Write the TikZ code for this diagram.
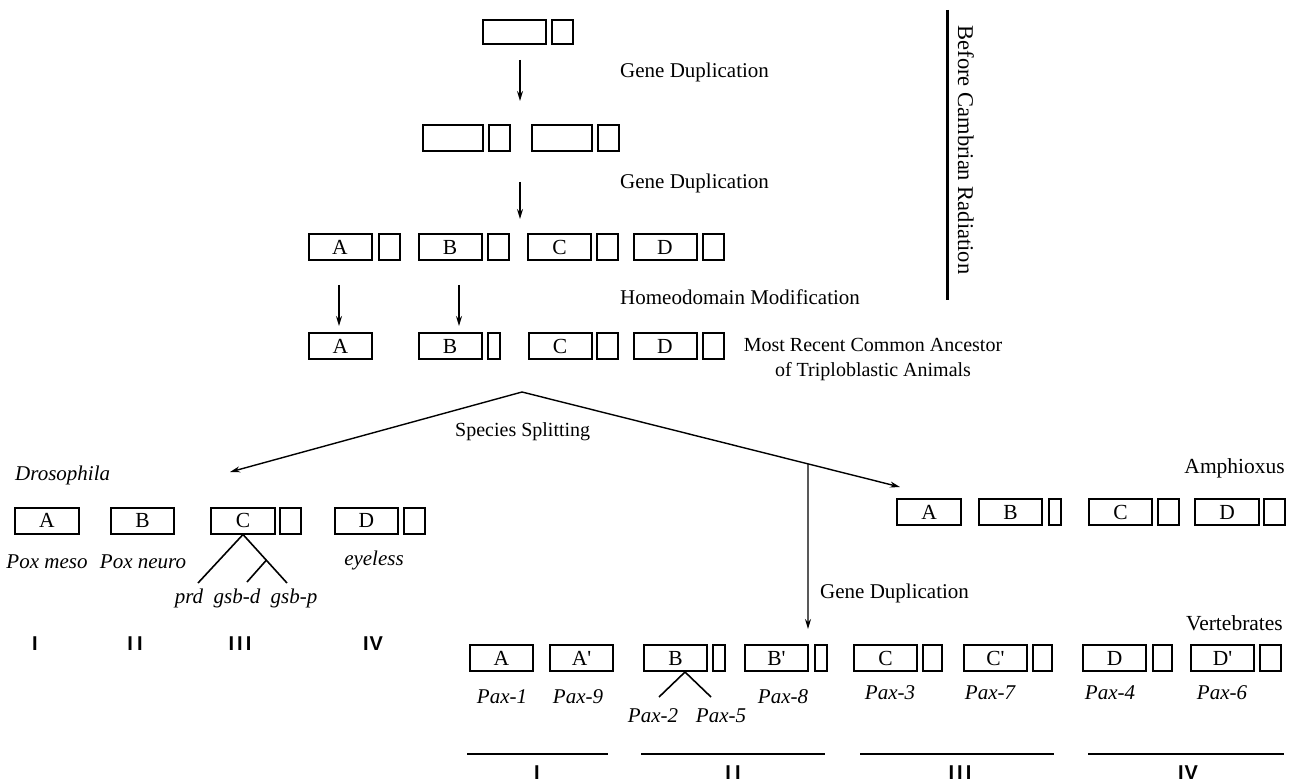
\documentclass[tikz,border=0pt]{standalone}
\usepackage{fontspec}
\setmainfont{Liberation Serif}
\setsansfont{Liberation Sans}
\usetikzlibrary{arrows.meta,calc}
\begin{document}
\begin{tikzpicture}[x=1pt,y=-1pt,
  gb/.style={draw, line width=2pt, minimum height=26pt, inner sep=0pt, font=\fontsize{21.5}{21.5}\selectfont},
  big/.style={gb, minimum width=63pt},
  sq/.style={gb, minimum width=21pt},
  nar/.style={gb, minimum width=12pt},
  arr/.style={line width=1.4pt, -{Stealth[length=10pt,width=6pt]}},
  lbl/.style={font=\fontsize{21}{26}\selectfont, inner sep=0pt},
  ital/.style={font=\fontsize{21}{24}\selectfont\itshape, inner sep=0pt},
  rom/.style={font=\fontsize{20}{20}\selectfont\sffamily\bfseries, inner sep=0pt, anchor=base},
  tree/.style={line width=1.6pt},
  grp/.style={line width=2.2pt}]
\useasboundingbox (0,0) rectangle (1289,783);

% Row 1
\node[big, minimum height=24pt] (r1a) at (514,32.5) {};
\node[sq, minimum height=24pt] (r1b) at (562.5,32.5) {};
% Row 2
\node[big, minimum width=60pt] (r2a) at (453,138.5) {};
\node[sq] (r2b) at (499,138.5) {};
\node[big, minimum width=60pt] (r2c) at (562,138.5) {};
\node[sq] (r2d) at (608.5,138.5) {};
% Row 3
\node[big] (r3A) at (340,247.5) {A};
\node[sq] (r3As) at (389,247.5) {};
\node[big] (r3B) at (450,247.5) {B};
\node[sq] (r3Bs) at (498.5,247.5) {};
\node[big] (r3C) at (559.5,247.5) {C};
\node[sq] (r3Cs) at (607.5,247.5) {};
\node[big] (r3D) at (665,247.5) {D};
\node[sq] (r3Ds) at (713,247.5) {};
% Row 4
\node[big] (r4A) at (340.5,346) {A};
\node[big] (r4B) at (450,346) {B};
\node[nar] (r4Bs) at (494,346) {};
\node[big] (r4C) at (560,346) {C};
\node[sq] (r4Cs) at (607.5,346) {};
\node[big] (r4D) at (665,346) {D};
\node[sq] (r4Ds) at (713,346) {};

% arrows in upper part
\coordinate (a1s) at (520,60);  \coordinate (a1e) at (520,101);
\coordinate (a2s) at (520,182); \coordinate (a2e) at (520,219);
\coordinate (a3s) at (339,285); \coordinate (a3e) at (339,326);
\coordinate (a4s) at (459,285); \coordinate (a4e) at (459,326);
\draw[arr] (a1s) -- (a1e);
\draw[arr] (a2s) -- (a2e);
\draw[arr] (a3s) -- (a3e);
\draw[arr] (a4s) -- (a4e);

\node[lbl, anchor=west] (gd1) at (620,72) {Gene Duplication};
\node[lbl, anchor=west] (gd2) at (620,183) {Gene Duplication};
\node[lbl, anchor=west] (hm) at (620,297) {Homeodomain Modification};
\node[lbl, align=center, font=\fontsize{20}{25}\selectfont] (mrca) at (873,359.5) {Most Recent Common Ancestor\\of Triploblastic Animals};

% Before Cambrian Radiation
\coordinate (bar1) at (947,10); \coordinate (bar2) at (947,300);
\draw[line width=3pt] (bar1) -- (bar2);
\node[lbl, rotate=-90, font=\fontsize{22.5}{25}\selectfont] (bcr) at (966,150) {Before Cambrian Radiation};

% Species splitting
\coordinate (apex) at (522,392);
\coordinate (drotip) at (230,472);
\coordinate (amphtip) at (900,487);
\coordinate (vsplit) at ($(apex)!0.7566!(amphtip)$);
\coordinate (vtip) at (808,629);
\draw[arr] (apex) -- (drotip);
\draw[arr] (apex) -- (amphtip);
\draw[arr] (vsplit) -- (vtip);
\node[lbl, anchor=west, font=\fontsize{20}{24}\selectfont] (ss) at (455,432) {Species Splitting};

% Drosophila
\node[ital, anchor=west] (dros) at (15,475) {Drosophila};
\node[big, minimum width=64pt] (dA) at (47,520.5) {A};
\node[big] (dB) at (142.5,520.5) {B};
\node[big, minimum width=64pt] (dC) at (243,520.5) {C};
\node[sq] (dCs) at (290.5,520.5) {};
\node[big] (dD) at (366.5,520.5) {D};
\node[sq] (dDs) at (414.5,520.5) {};
\node[ital] (pm) at (47,562) {Pox meso};
\node[ital] (pn) at (143,562) {Pox neuro};
\node[ital] (ey) at (374,560) {eyeless};
\coordinate (prdE) at (198,583);
\coordinate (gspE) at (287,583);
\coordinate (gsdE) at (247,582);
\coordinate (inner) at ($(dC.south)!0.53!(gspE)$);
\draw[tree] (prdE) -- (dC.south) -- (gspE);
\draw[tree] (inner) -- (gsdE);
\node[ital] (prd) at (189,598) {prd};
\node[ital] (gsd) at (237,598) {gsb-d};
\node[ital] (gsp) at (294,598) {gsb-p};
\node[rom] (dI) at (35,650) {I};
\node[rom] (dII) at (135,650) {I\kern4pt I};
\node[rom] (dIII) at (240,650) {I\kern3pt I\kern3pt I};
\node[rom] (dIV) at (373,650) {I\kern1pt V};

% Amphioxus
\node[lbl, anchor=east, font=\fontsize{21.5}{25}\selectfont] (amph) at (1285,468) {Amphioxus};
\node[big, minimum width=64pt] (aA) at (929,512) {A};
\node[big] (aB) at (1010.5,512) {B};
\node[nar] (aBs) at (1054.5,512) {};
\node[big] (aC) at (1120.5,512) {C};
\node[sq] (aCs) at (1168.5,512) {};
\node[big, minimum width=64pt] (aD) at (1227,512) {D};
\node[sq] (aDs) at (1274.5,512) {};

% Vertebrates
\node[lbl, anchor=west] (gd3) at (820,593) {Gene Duplication};
\node[lbl, anchor=east, font=\fontsize{21.5}{25}\selectfont] (vert) at (1283,623) {Vertebrates};
\node[big] (vA) at (501.5,658) {A};
\node[big] (vA2) at (581.5,658) {A\textquotesingle};
\node[big] (vB) at (675.5,658) {B};
\node[nar] (vBs) at (719,658) {};
\node[big] (vB2) at (776.5,658) {B\textquotesingle};
\node[nar] (vB2s) at (820.5,658) {};
\node[big] (vC) at (885.5,658) {C};
\node[sq, minimum width=19pt] (vCs) at (932.5,658) {};
\node[big] (vC2) at (995.5,658) {C\textquotesingle};
\node[sq, minimum width=19pt] (vC2s) at (1042.5,658) {};
\node[big] (vD) at (1114.5,658) {D};
\node[sq, minimum width=19pt] (vDs) at (1162.5,658) {};
\node[big] (vD2) at (1222.5,658) {D\textquotesingle};
\node[sq] (vD2s) at (1270.5,658) {};

\node[ital] (p1) at (502,697) {Pax-1};
\node[ital] (p9) at (578,697) {Pax-9};
\node[ital] (p8) at (783,697) {Pax-8};
\node[ital] (p2) at (653,716) {Pax-2};
\node[ital] (p5) at (721,716) {Pax-5};
\node[ital] (p3) at (890,693) {Pax-3};
\node[ital] (p7) at (990,693) {Pax-7};
\node[ital] (p4) at (1110,693) {Pax-4};
\node[ital] (p6) at (1222,693) {Pax-6};

\coordinate (bApex) at (685,672);
\coordinate (p2E) at (659,697);
\coordinate (p5E) at (711,697);
\draw[tree] (p2E) -- (bApex) -- (p5E);

% group lines
\coordinate (g1a) at (467,754); \coordinate (g1b) at (608,754);
\coordinate (g2a) at (641,754); \coordinate (g2b) at (825,754);
\coordinate (g3a) at (860,754); \coordinate (g3b) at (1054,754);
\coordinate (g4a) at (1088,754); \coordinate (g4b) at (1284,754);
\draw[grp] (g1a) -- (g1b);
\draw[grp] (g2a) -- (g2b);
\draw[grp] (g3a) -- (g3b);
\draw[grp] (g4a) -- (g4b);
\node[rom] (vI) at (537,779) {I};
\node[rom] (vII) at (733,779) {I\kern4pt I};
\node[rom] (vIII) at (960,779) {I\kern3pt I\kern3pt I};
\node[rom] (vIV) at (1188,779) {I\kern1pt V};
\end{tikzpicture}
\end{document}
